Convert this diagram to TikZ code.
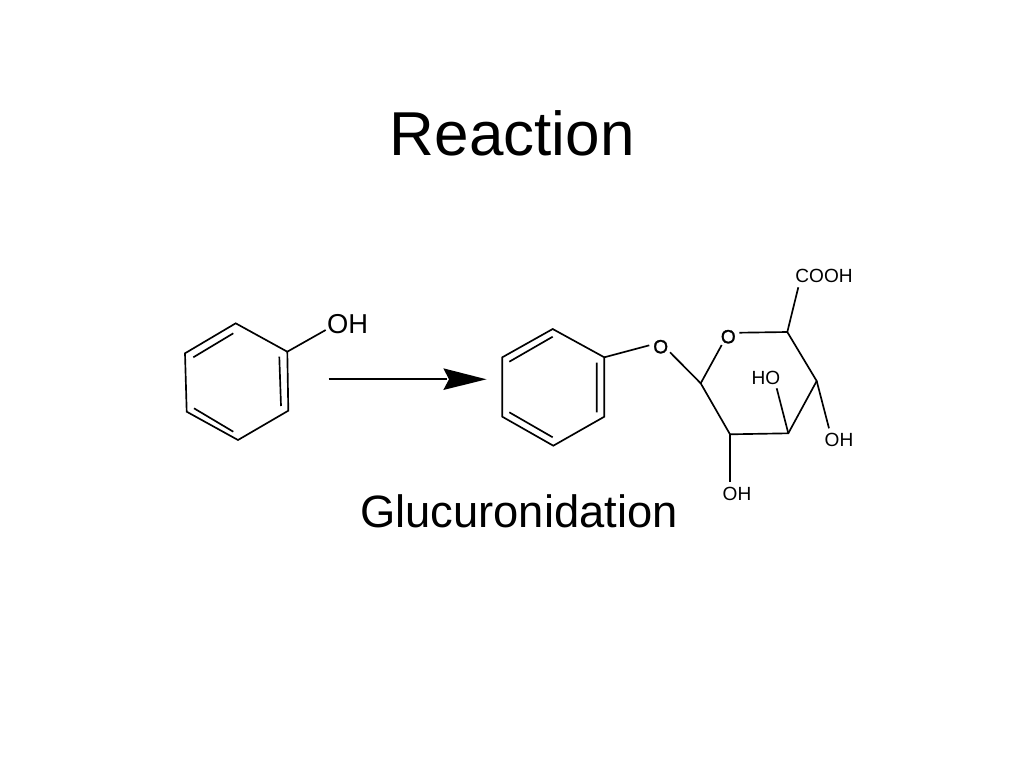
\documentclass[tikz,border=0pt]{standalone}
\usepackage{fontspec}
\setmainfont{Liberation Sans}
\newfontfamily\heavyfont[FakeBold=1.5]{Liberation Sans}
\tikzset{
  bond/.style={line width=1.25pt,black},
  tiny label/.style={inner sep=0pt,font=\fontsize{14.3}{16}\selectfont},
  ring oxygen/.style={inner sep=0pt,font=\heavyfont\fontsize{14.3}{16}\selectfont},
  big label/.style={inner sep=0pt,font=\fontsize{20.5}{24}\selectfont},
}
\begin{document}
\begin{tikzpicture}[x=0.75pt,y=-0.75pt]
\useasboundingbox (0,0) rectangle (1024,768);
\fill[white] (0,0) rectangle (1024,768);
\node[inner sep=0pt,font=\fontsize{46.5}{50}\selectfont] (title) at (512.3,133) {Reaction};
\node[inner sep=0pt,font=\fontsize{34}{40}\selectfont] (caption) at (519,511.5) {Glucuronidation};
% phenol
\coordinate (a1) at (235.7,323.3);
\coordinate (a2) at (287.3,351.7);
\coordinate (a3) at (288.3,410.7);
\coordinate (a4) at (238,440);
\coordinate (a5) at (186.7,411.7);
\coordinate (a6) at (185,353.3);
\draw[bond] (a1)--(a2)--(a3)--(a4)--(a5)--(a6)--cycle;
\coordinate (a7) at (193.3,357.3); \coordinate (a8) at (233.3,333.3);
\coordinate (a9) at (279.3,356.7); \coordinate (a10) at (281,406);
\coordinate (a11) at (194,408.3); \coordinate (a12) at (233.3,431.7);
\draw[bond] (a7)--(a8) (a9)--(a10) (a11)--(a12);
\node[big label] (oh1) at (347.5,324) {OH};
\coordinate (a13) at (325.7,330);
\draw[bond] (a2)--(a13);
% arrow
\coordinate (r1) at (328.7,379.3);
\coordinate (r2) at (447,379.3);
\coordinate (rtip) at (486.5,379.3);
\coordinate (rb1) at (443.3,368.3);
\coordinate (rb2) at (443.3,390);
\coordinate (rn) at (449,379.3);
\draw[line width=1.5pt] (r1)--(r2);
\fill[black] (rtip)--(rb1)--(rn)--(rb2)--cycle;
% product ring
\coordinate (b1) at (552.7,329);
\coordinate (b2) at (604.3,357.3);
\coordinate (b3) at (604.3,416.7);
\coordinate (b4) at (553.3,445.7);
\coordinate (b5) at (502.3,416.7);
\coordinate (b6) at (502.3,357.3);
\draw[bond] (b1)--(b2)--(b3)--(b4)--(b5)--(b6)--cycle;
\coordinate (b7) at (509.3,361.7); \coordinate (b8) at (552.7,336.7);
\coordinate (b9) at (596.7,362.7); \coordinate (b10) at (596.7,412.3);
\coordinate (b11) at (509.3,412.3); \coordinate (b12) at (552.7,437.3);
\draw[bond] (b7)--(b8) (b9)--(b10) (b11)--(b12);
% bridging O
\node[ring oxygen] (o1) at (660.7,346.7) {O};
\coordinate (c0a) at (649.3,345.3);
\coordinate (c0b) at (670,352.3);
\draw[bond] (b2)--(c0a);
% sugar
\coordinate (c1) at (700.7,383.3);
\coordinate (c2) at (730,434.3);
\coordinate (c3) at (788.3,433.3);
\coordinate (c4) at (816.7,381);
\coordinate (c5) at (787.3,332);
\coordinate (oa) at (721.7,345);
\coordinate (ob) at (739.3,332.7);
\draw[bond] (c0b)--(c1);
\draw[bond] (oa)--(c1)--(c2)--(c3)--(c4)--(c5)--(ob);
\node[ring oxygen] (o2) at (728.3,336.7) {O};
\node[tiny label] (cooh) at (824,276.3) {COOH};
\coordinate (d1) at (798.3,287.3);
\draw[bond] (c5)--(d1);
\node[tiny label] (oh2) at (839,439.6) {OH};
\coordinate (d2) at (829,428.3);
\draw[bond] (c4)--(d2);
\node[tiny label] (ho) at (766,377.7) {HO};
\coordinate (d3) at (776.7,388.3);
\draw[bond] (c3)--(d3);
\node[tiny label] (oh3) at (737,493.7) {OH};
\coordinate (d4) at (730,482.3);
\draw[bond] (c2)--(d4);
\end{tikzpicture}
\end{document}
